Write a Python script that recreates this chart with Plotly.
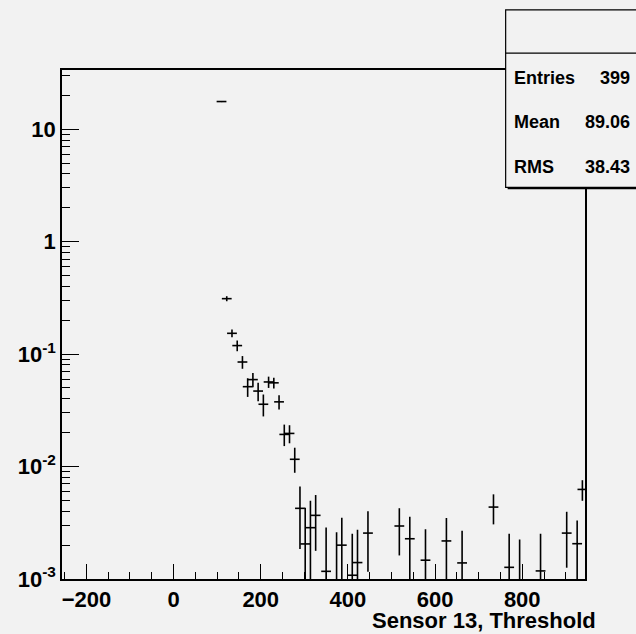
import plotly.graph_objects as go

# ---- data ----
bin_centers = [110, 122, 134, 146, 158, 170, 182, 194, 206, 218, 230, 242, 254, 266, 278,
               290, 302, 314, 326, 350, 374, 386, 410, 422, 446, 518, 542, 578, 626, 662,
               734, 770, 794, 842, 902, 926, 938]
values = [17.6, 0.311, 0.153, 0.119, 0.085, 0.0513, 0.0593, 0.0469, 0.0358, 0.0565, 0.0555, 0.0376,
          0.0193, 0.0197, 0.0116,
          0.00425, 0.00205, 0.00286, 0.00368, 0.00117, 0.0009, 0.0020, 0.00108, 0.0014, 0.00256,
          0.00296, 0.00228, 0.00147, 0.00218, 0.00139,
          0.00436, 0.00127, 0.0009, 0.00118, 0.00256, 0.00206, 0.00626]
err_up = [0.2, 0.016, 0.012, 0.013, 0.011, 0.0097, 0.0086, 0.0088, 0.0079, 0.0065, 0.006, 0.0055,
          0.0043, 0.0036, 0.0031,
          0.0024, 0.00225, 0.0021, 0.0019, 0.0017, 0.0017, 0.0015, 0.00145, 0.00134, 0.00145,
          0.0013, 0.0013, 0.0013, 0.0013, 0.0013,
          0.0013, 0.00126, 0.00135, 0.00135, 0.0014, 0.00126, 0.0013]
err_lo = [0.2, 0.016, 0.012, 0.013, 0.011, 0.0097, 0.0086, 0.0088, 0.0079, 0.0065, 0.006, 0.0055,
          0.0041, 0.0036, 0.0028,
          0.0024, 0.00205, 0.00286, 0.0019, 0.00117, 0.0009, 0.0020, 0.00108, 0.0014, 0.0014,
          0.00134, 0.00228, 0.00147, 0.00218, 0.00139,
          0.0013, 0.00127, 0.0009, 0.00118, 0.0013, 0.00206, 0.0013]

x_range = [-256, 944]
y_log_range = [-3, 1.526]
x_tickvals = [-200, 0, 200, 400, 600, 800]
y_tickvals = [0.001, 0.01, 0.1, 1, 10]
y_ticktext = ["10<sup>-3</sup>", "10<sup>-2</sup>", "10<sup>-1</sup>", "1", "10"]
y_minor = [m * 10 ** e for e in range(-3, 2) for m in range(2, 10)]

stats_labels = ["Entries", "Mean", "RMS"]
stats_values = ["399", "89.06", "38.43"]
x_title = "Sensor 13, Threshold"

# lower error drawn to (almost) zero when it reaches the value
err_lo_plot = [min(lo, 0.999 * v) for lo, v in zip(err_lo, values)]

BG = "#f2f2f2"
FONT = "Liberation Sans, Arial, sans-serif"

fig = go.Figure()
fig.add_trace(go.Scatter(
    x=bin_centers, y=values, mode="markers",
    marker=dict(symbol="line-ew", size=7, color="black",
                line=dict(color="black", width=1.6)),
    error_y=dict(type="data", array=err_up, arrayminus=err_lo_plot,
                 color="black", thickness=1.6, width=0),
    showlegend=False, cliponaxis=True,
))

fig.update_xaxes(
    range=x_range, showgrid=False, zeroline=False,
    showline=True, linecolor="black", linewidth=1.5, mirror=True,
    ticks="inside", ticklen=15, tickwidth=1.2, tickcolor="black",
    tickvals=x_tickvals,
    minor=dict(ticks="inside", ticklen=7, tickwidth=1.2, tickcolor="black", dtick=50, showgrid=False),
    tickfont=dict(family=FONT, size=22, color="black", weight="bold"),
)
fig.update_yaxes(
    type="log", range=y_log_range, showgrid=False, zeroline=False,
    showline=True, linecolor="black", linewidth=1.5, mirror=True,
    ticks="inside", ticklen=17, tickwidth=1.2, tickcolor="black",
    tickvals=y_tickvals, ticktext=y_ticktext,
    minor=dict(ticks="inside", ticklen=8, tickwidth=1.2, tickcolor="black",
               tickvals=y_minor, showgrid=False),
    tickfont=dict(family=FONT, size=22, color="black", weight="bold"),
)

W, H = 636, 634
L, R, T, B = 61.5, 585.5, 69.6, 579
pw, ph = R - L, B - T

def px(xp):
    return (xp - L) / pw

def py(yp):
    return (B - yp) / ph

# x-axis title
fig.add_annotation(
    text=x_title, xref="paper", yref="paper", x=px(599), y=py(621),
    xanchor="right", yanchor="middle", showarrow=False,
    font=dict(family=FONT, size=22, color="black", weight="bold"),
)

# stats box
bx0, bx1, by0, bsep, by1 = 506, 640, 9.5, 52.7, 187
fig.add_shape(type="rect", xref="paper", yref="paper",
              x0=px(bx0) + 2 / pw, x1=px(bx1) + 2 / pw, y0=py(by1 + 2), y1=py(by0 + 2),
              fillcolor="black", line=dict(width=0), layer="above")
fig.add_shape(type="rect", xref="paper", yref="paper",
              x0=px(bx0), x1=px(bx1), y0=py(by1), y1=py(by0),
              fillcolor=BG, line=dict(color="black", width=1.2), layer="above")
fig.add_shape(type="line", xref="paper", yref="paper",
              x0=px(bx0), x1=px(bx1), y0=py(bsep), y1=py(bsep),
              line=dict(color="black", width=1.2), layer="above")
for lab, val, yc in zip(stats_labels, stats_values, [78, 122, 166.7]):
    fig.add_annotation(text=lab, xref="paper", yref="paper", x=px(512.5), y=py(yc),
                       xanchor="left", yanchor="middle", showarrow=False,
                       font=dict(family=FONT, size=18, color="black", weight="bold"))
    fig.add_annotation(text=val, xref="paper", yref="paper", x=px(633), y=py(yc),
                       xanchor="right", yanchor="middle", showarrow=False,
                       font=dict(family=FONT, size=18, color="black", weight="bold"))

fig.update_layout(
    width=W, height=H,
    margin=dict(l=L, r=W - R, t=T, b=H - B, pad=0),
    paper_bgcolor=BG, plot_bgcolor=BG,
    font=dict(family=FONT, color="black"),
)

fig.write_html("out.html")
